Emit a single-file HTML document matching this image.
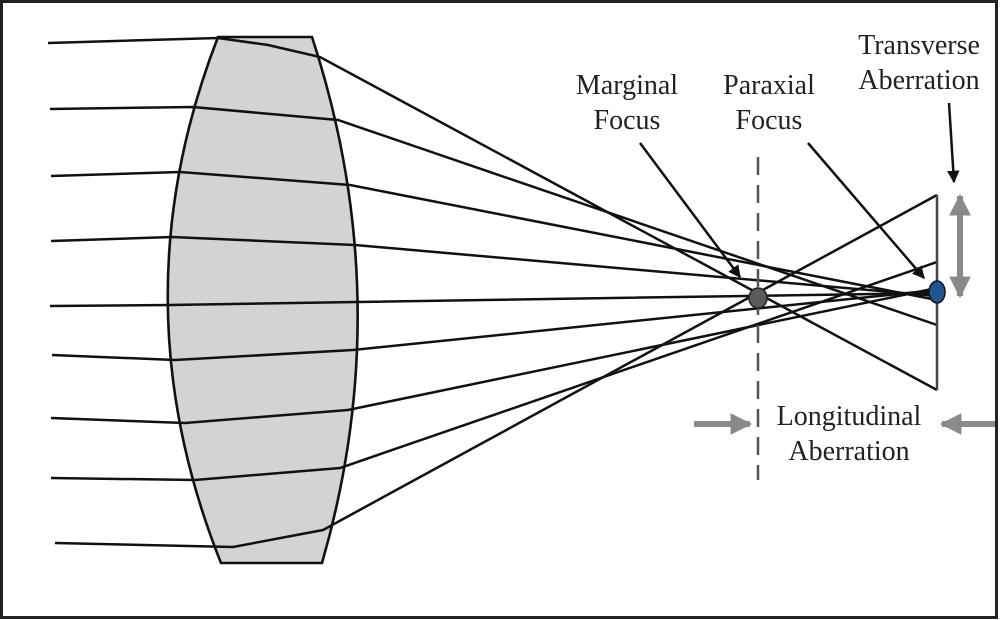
<!DOCTYPE html>
<html><head><meta charset="utf-8"><style>html,body{margin:0;padding:0;background:#fff}svg{display:block}</style></head>
<body>
<svg width="1000" height="620" viewBox="0 0 1000 620" xmlns="http://www.w3.org/2000/svg">
<defs>
<marker id="ab" viewBox="0 0 10 10" refX="9" refY="5" markerWidth="5" markerHeight="5" orient="auto"><path d="M0,0 L10,5 L0,10 z" fill="#111"/></marker>
<marker id="ag" viewBox="0 0 10 10" refX="9" refY="5" markerWidth="3.6" markerHeight="3.6" orient="auto-start-reverse"><path d="M0,0 L10,5 L0,10 z" fill="#8a8a8a"/></marker>
</defs>
<rect x="1.5" y="1.5" width="995" height="616" fill="#fff" stroke="#222" stroke-width="3"/>
<!-- lens -->
<path d="M218,37 L312,37 Q398,300 322,563 L221,563 Q116,300 218,37 Z" fill="#d1d3d4" stroke="#111" stroke-width="2.6"/>
<g fill="none" stroke="#111" stroke-width="2.5">
<polyline points="48,43 218,38 268,45 320,57 937,390"/>
<polyline points="50,109 193,107 338,120 937,325"/>
<polyline points="51,176 180,172 350,185 937,300"/>
<polyline points="51,241 172,237 355,245 937,296"/>
<polyline points="50,306 170,305 357,302 937,293"/>
<polyline points="52,355 175,360 353,350 937,290"/>
<polyline points="51,418 185,423 348,410 937,288"/>
<polyline points="51,478 195,480 340,468 937,262"/>
<polyline points="55,543 233,547 323,530 937,195"/>
</g>
<line x1="937" y1="195" x2="937" y2="390" stroke="#444" stroke-width="2.5"/>
<line x1="758" y1="157" x2="758" y2="480" stroke="#555" stroke-width="2.5" stroke-dasharray="18,10"/>
<ellipse cx="758" cy="298" rx="9" ry="10" fill="#5a5b5d" stroke="#222" stroke-width="1.5"/>
<ellipse cx="937" cy="292" rx="8" ry="11" fill="#1f5590" stroke="#112" stroke-width="1.5"/>
<g stroke="#111" stroke-width="2.5" marker-end="url(#ab)">
<line x1="640" y1="143" x2="740" y2="277"/>
<line x1="808" y1="143" x2="924" y2="278"/>
<line x1="949" y1="103" x2="954" y2="182"/>
</g>
<line x1="960" y1="196" x2="960" y2="296" stroke="#8a8a8a" stroke-width="6" marker-start="url(#ag)" marker-end="url(#ag)"/>
<line x1="694" y1="424" x2="750" y2="424" stroke="#8a8a8a" stroke-width="6" marker-end="url(#ag)"/>
<line x1="995" y1="424" x2="942" y2="424" stroke="#8a8a8a" stroke-width="6" marker-end="url(#ag)"/>
<g font-family="Liberation Serif, serif" font-size="28" fill="#222" text-anchor="middle">
<text x="627" y="94">Marginal</text><text x="627" y="129">Focus</text>
<text x="769" y="94">Paraxial</text><text x="769" y="129">Focus</text>
<text x="919" y="54">Transverse</text><text x="919" y="89">Aberration</text>
<text x="849" y="425">Longitudinal</text><text x="849" y="460">Aberration</text>
</g>
</svg>
</body></html>
